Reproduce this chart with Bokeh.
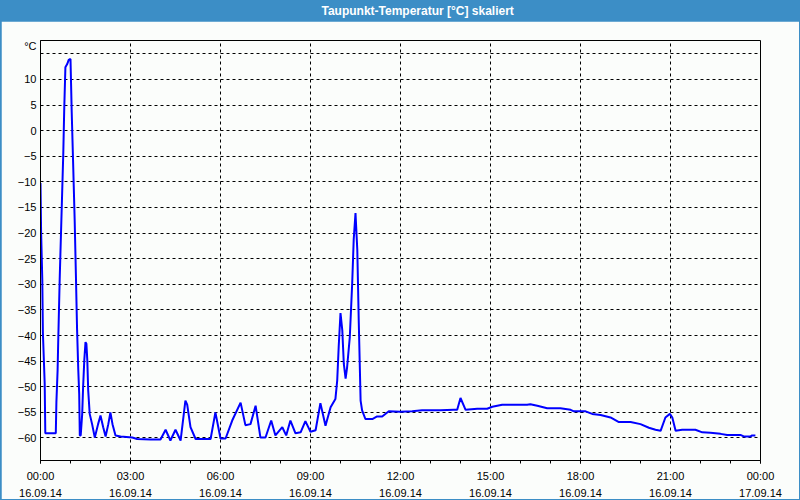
from bokeh.plotting import figure
from bokeh.models import Range1d, FixedTicker, LinearAxis, Label
from bokeh.layouts import column
from bokeh.embed import file_html
from bokeh.resources import INLINE

TITLE = "Taupunkt-Temperatur [°C] skaliert"

# time in hours since 16.09.14 00:00, dew point in °C
hours = [0.00, 0.02, 0.06, 0.08, 0.14, 0.16, 0.51, 0.53, 0.57, 0.59, 0.64, 0.68,
         0.72, 0.76, 0.79, 0.83, 0.89, 0.94, 1.00, 1.04, 1.09, 1.14, 1.18, 1.22,
         1.26, 1.29, 1.31, 1.34, 1.39, 1.42, 1.46, 1.50, 1.53, 1.56, 1.59, 1.64,
         1.72, 1.81, 1.92, 2.00, 2.09, 2.17, 2.26, 2.33, 2.40, 2.50, 2.67, 3.06,
         3.22, 3.67, 4.00, 4.17, 4.33, 4.50, 4.67, 4.83, 4.89, 5.00, 5.17, 5.67,
         5.83, 6.00, 6.17, 6.39, 6.67, 6.83, 7.00, 7.17, 7.33, 7.50, 7.69, 7.83,
         8.06, 8.19, 8.33, 8.50, 8.67, 8.83, 9.00, 9.17, 9.33, 9.50, 9.67, 9.83,
         9.89, 9.94, 10.00, 10.06, 10.11, 10.17, 10.22, 10.31, 10.39, 10.44, 10.50,
         10.56, 10.61, 10.67, 10.72, 10.83, 11.06, 11.22, 11.39, 11.61, 12.00,
         12.39, 12.72, 13.33, 13.78, 13.89, 14.00, 14.17, 14.56, 14.89, 15.06,
         15.39, 16.22, 16.33, 16.56, 16.89, 17.33, 17.67, 17.78, 18.17, 18.39,
         18.67, 19.00, 19.28, 19.67, 20.00, 20.28, 20.50, 20.67, 20.83, 20.98,
         21.06, 21.17, 21.39, 21.83, 22.06, 22.33, 22.67, 22.89, 23.33, 23.44,
         23.67, 23.72, 23.83]
dewpoint = [-10.2, -19.7, -29.2, -39.5, -49.4, -59.1, -59.1, -53.0, -46.8, -41.3, -28.9, -20.7,
            -12.5, -4.3, 4.0, 12.4, 13.0, 13.8, 14.0, 3.7, -6.9, -17.7, -28.2, -39.0,
            -46.8, -51.4, -59.5, -59.5, -55.3, -50.1, -44.8, -41.3, -41.6, -44.8, -50.7, -55.3,
            -57.3, -59.9, -57.3, -55.6, -57.9, -59.7, -57.3, -55.0, -57.3, -59.5, -59.7, -59.9,
            -60.2, -60.3, -60.3, -58.4, -60.5, -58.4, -60.5, -52.7, -53.5, -57.9, -60.2, -60.2,
            -55.0, -60.1, -60.1, -56.6, -53.1, -57.5, -57.3, -53.7, -59.9, -59.9, -56.6, -59.5,
            -57.9, -59.5, -56.6, -59.1, -58.9, -56.7, -58.8, -58.5, -53.2, -57.6, -54.0, -52.4,
            -48.8, -42.2, -35.6, -39.0, -45.5, -48.4, -46.2, -40.3, -29.8, -21.3, -16.1,
            -23.3, -37.6, -52.7, -54.6, -56.3, -56.3, -55.8, -55.8, -54.8, -54.9,
            -54.8, -54.6, -54.6, -54.5, -54.5, -52.2, -54.5, -54.3, -54.3, -53.9,
            -53.5, -53.5, -53.4, -53.7, -54.2, -54.2, -54.5, -54.8, -54.8, -55.3,
            -55.5, -56.0, -56.9, -56.9, -57.3, -58.0, -58.4, -58.6, -56.0, -55.3,
            -56.0, -58.6, -58.4, -58.4, -58.9, -59.0, -59.2, -59.4, -59.4, -59.7,
            -59.7, -59.5, -59.5]

x_tick_hours = [0, 3, 6, 9, 12, 15, 18, 21, 24]
x_minor_hours = list(range(0, 25))
x_time_labels = ["00:00", "03:00", "06:00", "09:00", "12:00", "15:00", "18:00", "21:00", "00:00"]
x_date_labels = ["16.09.14"] * 8 + ["17.09.14"]
y_label_ticks = [-60, -55, -50, -45, -40, -35, -30, -25, -20, -15, -10, -5, 0, 5, 10]
y_grid_ticks = y_label_ticks + [15]
Y_UNIT_TEXT = "°C"
Y_UNIT_POS = 16.5

BLUE = "#3c8ec6"
BG = "#fbfdfb"
FONT = "Liberation Sans"

head = figure(width=800, height=21, x_range=Range1d(0, 800), y_range=Range1d(0, 21),
              x_axis_type=None, y_axis_type=None, toolbar_location=None,
              output_backend="svg", min_border=0, background_fill_color=BLUE,
              border_fill_color=BLUE, outline_line_color=None)
head.add_layout(Label(x=419, y=10.5, text=TITLE, text_align="center", text_baseline="middle",
                      text_color="white", text_font=FONT, text_font_size="12px",
                      text_font_style="bold"))

p = figure(width=798, height=478, x_range=Range1d(0, 24), y_range=Range1d(-64.4, 17.6),
           toolbar_location=None, output_backend="svg",
           min_border_left=39, min_border_right=39, min_border_top=19, min_border_bottom=39,
           background_fill_color=BG, border_fill_color=BG,
           outline_line_color="black", outline_line_width=1, margin=(0, 1, 1, 1))

for g in (p.xgrid[0], p.ygrid[0]):
    g.grid_line_color = "black"
    g.grid_line_dash = "3 3"
    g.grid_line_width = 1
p.xgrid[0].ticker = FixedTicker(ticks=x_tick_hours)
p.ygrid[0].ticker = FixedTicker(ticks=y_grid_ticks)

xa = p.xaxis[0]
xa.ticker = FixedTicker(ticks=x_tick_hours, minor_ticks=x_minor_hours)
xa.major_label_overrides = {h: t for h, t in zip(x_tick_hours, x_time_labels)}
xa.axis_line_color = "black"
xa.major_tick_line_color = "black"
xa.minor_tick_line_color = "black"
xa.major_tick_out = 3
xa.major_tick_in = 0
xa.minor_tick_out = 3
xa.minor_tick_in = 0
xa.major_label_standoff = 6
xa.major_label_text_font = FONT
xa.major_label_text_font_size = "11px"
xa.major_label_text_color = "black"

xa2 = LinearAxis(ticker=FixedTicker(ticks=x_tick_hours),
                 major_label_overrides={h: d for h, d in zip(x_tick_hours, x_date_labels)},
                 axis_line_color=None, major_tick_line_color=None, minor_tick_line_color=None,
                 major_tick_out=0, major_tick_in=0, minor_tick_out=0, minor_tick_in=0,
                 major_label_standoff=4, major_label_text_font=FONT,
                 major_label_text_font_size="11px", major_label_text_color="black")
p.add_layout(xa2, "below")

ya = p.yaxis[0]
ya.ticker = FixedTicker(ticks=y_label_ticks + [Y_UNIT_POS])
ya.major_label_overrides = {Y_UNIT_POS: Y_UNIT_TEXT}
ya.axis_line_color = "black"
ya.major_tick_line_color = None
ya.minor_tick_line_color = None
ya.major_tick_out = 0
ya.major_tick_in = 0
ya.minor_tick_out = 0
ya.minor_tick_in = 0
ya.major_label_standoff = 4
ya.major_label_text_font = FONT
ya.major_label_text_font_size = "11px"
ya.major_label_text_color = "black"

p.line(hours, dewpoint, line_color="#0000ff", line_width=2)

layout = column(head, p, styles={"background-color": BLUE})

open("out.html", "w").write(file_html(layout, INLINE))
